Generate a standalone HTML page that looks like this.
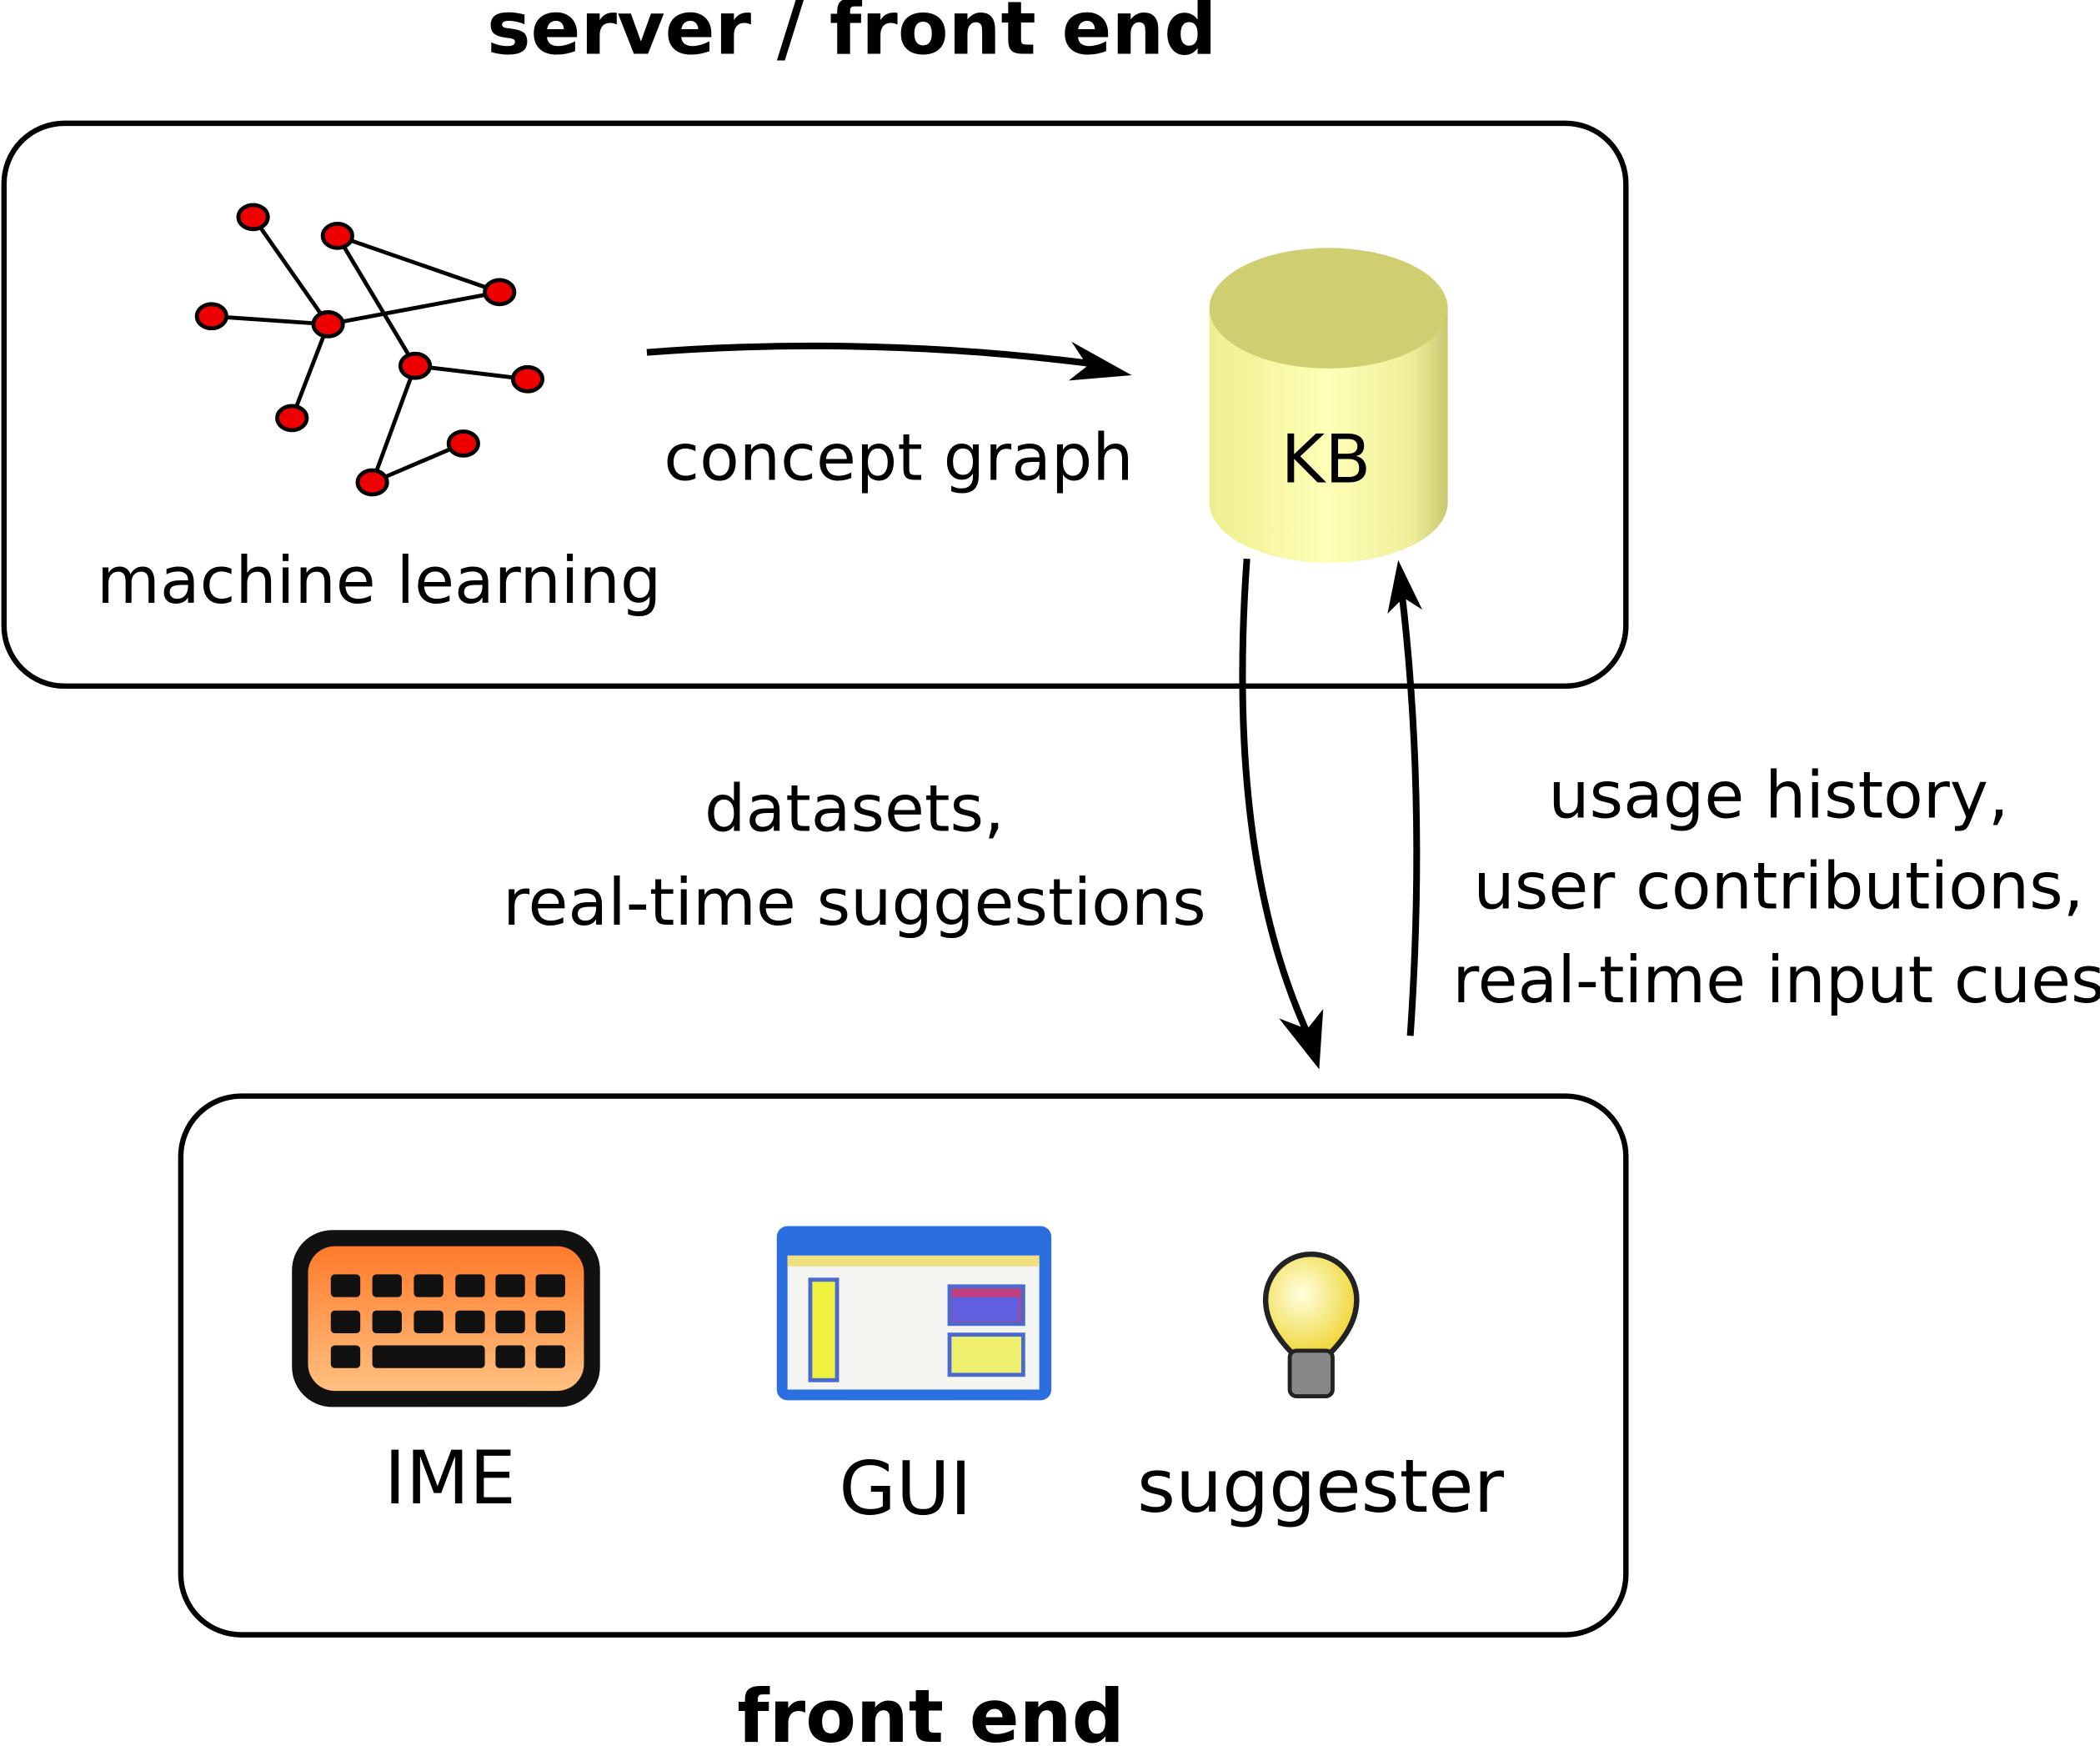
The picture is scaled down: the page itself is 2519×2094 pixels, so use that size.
<!DOCTYPE html>
<html><head><meta charset="utf-8"><style>
html,body{margin:0;padding:0;background:#fff;}
svg{display:block;}
text{font-family:"DejaVu Sans","Liberation Sans",sans-serif;fill:#000;}
</style></head><body>
<svg width="2519" height="2094" viewBox="0 0 1568 1303" preserveAspectRatio="none" xmlns="http://www.w3.org/2000/svg">
<defs>
<linearGradient id="cyl" x1="0" x2="1" y1="0" y2="0">
<stop offset="0" stop-color="#eeee90"/><stop offset="0.5" stop-color="#ffffb8"/><stop offset="0.85" stop-color="#eeee99"/><stop offset="1" stop-color="#c8c870"/>
</linearGradient>
<linearGradient id="kb" x1="0" x2="0" y1="0" y2="1">
<stop offset="0" stop-color="#ff7a2a"/><stop offset="1" stop-color="#ffc080"/>
</linearGradient>
<radialGradient id="bulb" cx="0.4" cy="0.4" r="0.6"><stop offset="0" stop-color="#ffffe0"/><stop offset="1" stop-color="#f0d840"/></radialGradient>
</defs>
<text x="636" y="40" font-size="55" font-weight="bold" text-anchor="middle">server / front end</text>
<rect x="3" y="92" width="1211" height="420" rx="45" fill="none" stroke="#000" stroke-width="4"/>
<g stroke="#000" stroke-width="3">
<line x1="189" y1="162" x2="245" y2="242"/><line x1="158" y1="236" x2="245" y2="242"/>
<line x1="245" y1="242" x2="373" y2="218"/><line x1="252" y1="176" x2="373" y2="218"/>
<line x1="252" y1="176" x2="310" y2="273"/><line x1="245" y1="242" x2="218" y2="312"/>
<line x1="310" y1="273" x2="394" y2="283"/><line x1="310" y1="273" x2="278" y2="360"/>
<line x1="278" y1="360" x2="346" y2="331"/>
</g>
<g fill="#e00" stroke="#000" stroke-width="3">
<ellipse cx="189" cy="162" rx="11" ry="9"/><ellipse cx="252" cy="176" rx="11" ry="9"/>
<ellipse cx="373" cy="218" rx="11" ry="9"/><ellipse cx="158" cy="236" rx="11" ry="9"/>
<ellipse cx="245" cy="242" rx="11" ry="9"/><ellipse cx="310" cy="273" rx="11" ry="9"/>
<ellipse cx="394" cy="283" rx="11" ry="9"/><ellipse cx="218" cy="312" rx="11" ry="9"/>
<ellipse cx="346" cy="331" rx="11" ry="9"/><ellipse cx="278" cy="360" rx="11" ry="9"/>
</g>
<text x="283" y="450" font-size="48.5" text-anchor="middle">machine learning</text>
<path d="M483 263 Q650 250 820 272" fill="none" stroke="#000" stroke-width="5"/>
<path d="M845 280 L800 255 L812 273 L798 284 Z" fill="#000"/>
<text x="671" y="358" font-size="48.5" text-anchor="middle">concept graph</text>
<path d="M903 230 L903 375 A89 45 0 0 0 1081 375 L1081 230 Z" fill="url(#cyl)"/>
<ellipse cx="992" cy="230" rx="89" ry="45" fill="#cfcf72"/>
<text x="990" y="360" font-size="50" text-anchor="middle">KB</text>
<path d="M931 417 Q915 640 978 775" fill="none" stroke="#000" stroke-width="5"/>
<path d="M985 798 L955 760 L976 768 L988 753 Z" fill="#000"/>
<path d="M1053 773 Q1065 600 1047 445" fill="none" stroke="#000" stroke-width="5"/>
<path d="M1044 418 L1036 458 L1048 446 L1062 455 Z" fill="#000"/>
<text x="638" y="620" font-size="48.5" text-anchor="middle">datasets,</text>
<text x="638" y="690" font-size="48.5" text-anchor="middle">real-time suggestions</text>
<text x="1328" y="610" font-size="48.5" text-anchor="middle">usage history,</text>
<text x="1328" y="678" font-size="48.5" text-anchor="middle">user contributions,</text>
<text x="1328" y="748" font-size="48.5" text-anchor="middle">real-time input cues</text>
<rect x="135" y="818" width="1079" height="402" rx="45" fill="none" stroke="#000" stroke-width="4"/>
<rect x="218" y="918" width="230" height="132" rx="30" fill="#111"/>
<rect x="230" y="930" width="206" height="108" rx="20" fill="url(#kb)"/>
<g fill="#111">
<rect x="247" y="951" width="22" height="17" rx="3"/><rect x="278" y="951" width="22" height="17" rx="3"/><rect x="309" y="951" width="22" height="17" rx="3"/><rect x="340" y="951" width="22" height="17" rx="3"/><rect x="370" y="951" width="22" height="17" rx="3"/><rect x="400" y="951" width="22" height="17" rx="3"/>
<rect x="247" y="978" width="22" height="17" rx="3"/><rect x="278" y="978" width="22" height="17" rx="3"/><rect x="309" y="978" width="22" height="17" rx="3"/><rect x="340" y="978" width="22" height="17" rx="3"/><rect x="370" y="978" width="22" height="17" rx="3"/><rect x="400" y="978" width="22" height="17" rx="3"/>
<rect x="247" y="1004" width="22" height="17" rx="3"/><rect x="278" y="1004" width="84" height="17" rx="3"/><rect x="370" y="1004" width="22" height="17" rx="3"/><rect x="400" y="1004" width="22" height="17" rx="3"/>
</g>
<rect x="580" y="915" width="205" height="130" rx="8" fill="#2a6ee0"/>
<rect x="588" y="937" width="188" height="100" fill="#f4f4f0"/>
<rect x="588" y="937" width="188" height="8" fill="#f0e080"/>
<rect x="605" y="955" width="20" height="75" fill="#f0f040" stroke="#4a6ad0" stroke-width="3"/>
<rect x="709" y="960" width="55" height="28" fill="#c04080" stroke="#4a6ad0" stroke-width="3"/>
<rect x="711" y="968" width="50" height="18" fill="#6060e0"/>
<rect x="709" y="996" width="55" height="30" fill="#f0f070" stroke="#4a6ad0" stroke-width="3"/>
<path d="M965 1010 Q945 990 945 970 A33 33 0 0 1 1013 970 Q1013 990 993 1010 Z" fill="url(#bulb)" stroke="#222" stroke-width="4"/>
<rect x="963" y="1008" width="32" height="34" rx="5" fill="#888" stroke="#222" stroke-width="3"/>
<text x="336" y="1122" font-size="55" text-anchor="middle">IME</text>
<text x="676" y="1130" font-size="55" text-anchor="middle">GUI</text>
<text x="986" y="1128" font-size="55" text-anchor="middle">suggester</text>
<text x="695" y="1300" font-size="55" font-weight="bold" text-anchor="middle">front end</text>
</svg>
</body></html>
